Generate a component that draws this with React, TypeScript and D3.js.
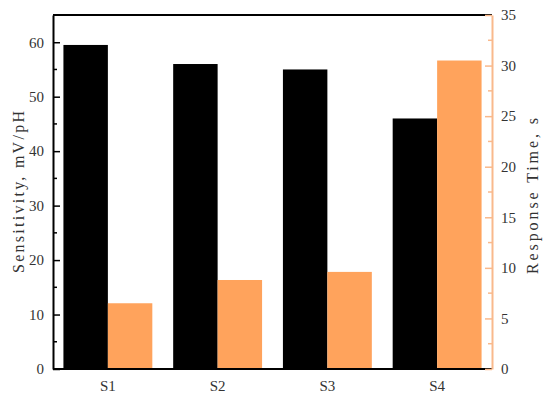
import React, { useRef, useEffect } from 'react';
import * as d3 from 'd3';

const samples = ['S1', 'S2', 'S3', 'S4'];
const sensitivity = [59.5, 56, 55, 46];
const responseTime = [6.5, 8.8, 9.6, 30.5];
const leftTicks = [0, 10, 20, 30, 40, 50, 60];
const rightTicks = [0, 5, 10, 15, 20, 25, 30, 35];

const orange = '#FFA35C';
const axisOrange = '#F9B98C';
const font = '"Liberation Serif", "DejaVu Serif", serif';

const renderChart = (ref) => {
	const svg = d3.select(ref.current);
	svg.selectAll('*').remove();
	const left = 53;
	const right = 492;
	const top = 15;
	const bottom = 369;

	const x = d3.scaleBand().domain(samples).range([left, right])
		.paddingInner(0.19)
		.paddingOuter(0.095);
	const xs = d3.scaleBand().domain(['a', 'b']).range([0, x.bandwidth()]);
	const yL = d3.scaleLinear().domain([0, 65]).range([bottom, top]);
	const yR = d3.scaleLinear().domain([0, 35]).range([bottom, top]);

	svg.selectAll('rect.s')
		.data(sensitivity)
		.join('rect')
		.attr('class', 's')
		.attr('x', (d, i) => x(samples[i]) + xs('a'))
		.attr('width', xs.bandwidth())
		.attr('y', (d) => yL(d))
		.attr('height', (d) => bottom - yL(d))
		.attr('fill', '#000');

	svg.selectAll('rect.r')
		.data(responseTime)
		.join('rect')
		.attr('class', 'r')
		.attr('x', (d, i) => x(samples[i]) + xs('b'))
		.attr('width', xs.bandwidth())
		.attr('y', (d) => yR(d))
		.attr('height', (d) => bottom - yR(d))
		.attr('fill', orange);

	// frame
	svg.append('line').attr('x1', left).attr('x2', right).attr('y1', top).attr('y2', top)
		.attr('stroke', '#000').attr('stroke-width', 2);
	svg.append('line').attr('x1', left).attr('x2', right).attr('y1', bottom).attr('y2', bottom)
		.attr('stroke', '#000').attr('stroke-width', 2);

	// left axis
	const gl = svg.append('g').attr('transform', `translate(${ left },0)`);
	gl.call(d3.axisLeft(yL).tickValues(leftTicks).tickSizeInner(-7).tickSizeOuter(0).tickPadding(9));
	gl.select('.domain').attr('stroke-width', 2);
	gl.selectAll('.tick line').attr('stroke-width', 1.5);
	gl.selectAll('.tick text').attr('font-family', font).attr('font-size', 15).attr('fill', '#333');
	gl.selectAll('line.minor')
		.data(d3.range(5, 65, 10))
		.join('line')
		.attr('class', 'minor')
		.attr('x1', 0).attr('x2', 4)
		.attr('y1', (d) => yL(d)).attr('y2', (d) => yL(d))
		.attr('stroke', '#000').attr('stroke-width', 1.5);

	// right axis
	const gr = svg.append('g').attr('transform', `translate(${ right },0)`);
	gr.call(d3.axisRight(yR).tickValues(rightTicks).tickSizeInner(-7).tickSizeOuter(0).tickPadding(9));
	gr.select('.domain').attr('stroke', axisOrange).attr('stroke-width', 2);
	gr.selectAll('.tick line').attr('stroke', axisOrange).attr('stroke-width', 1.5);
	gr.selectAll('.tick text').attr('font-family', font).attr('font-size', 15).attr('fill', '#333');
	gr.selectAll('line.minor')
		.data(d3.range(2.5, 35, 5))
		.join('line')
		.attr('class', 'minor')
		.attr('x1', 0).attr('x2', -4)
		.attr('y1', (d) => yR(d)).attr('y2', (d) => yR(d))
		.attr('stroke', axisOrange).attr('stroke-width', 1.5);

	// x labels
	svg.selectAll('text.xl')
		.data(samples)
		.join('text')
		.attr('class', 'xl')
		.attr('x', (d) => x(d) + x.bandwidth() / 2)
		.attr('y', 391)
		.attr('text-anchor', 'middle')
		.attr('font-family', font)
		.attr('font-size', 15)
		.attr('fill', '#333')
		.text((d) => d);

	// titles
	svg.append('text')
		.attr('transform', `translate(24,${ (top + bottom) / 2 }) rotate(-90)`)
		.attr('text-anchor', 'middle')
		.attr('font-family', font)
		.attr('font-size', 16)
		.attr('fill', '#333')
		.attr('textLength', 162)
		.attr('lengthAdjust', 'spacing')
		.text('Sensitivity, mV/pH');

	svg.append('text')
		.attr('transform', `translate(538,${ (top + bottom) / 2 + 4 }) rotate(-90)`)
		.attr('text-anchor', 'middle')
		.attr('font-family', font)
		.attr('font-size', 16)
		.attr('fill', '#333')
		.attr('textLength', 156)
		.attr('lengthAdjust', 'spacing')
		.text('Response Time, s');
};

const App = () => {
	const ref = useRef(null);

	useEffect(() => {
		renderChart(ref);
	}, []);

	return (
		<svg ref={ ref } width={ 550 } height={ 399 }
			style={ { position: 'absolute', left: 0, top: 0, background: '#fff' } }/>
	);
};

export default App;
